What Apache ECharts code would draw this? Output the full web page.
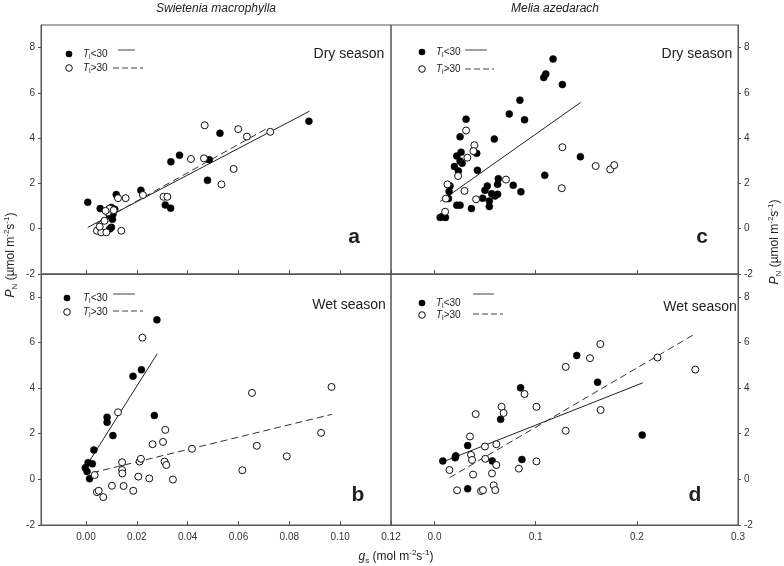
<!DOCTYPE html>
<html><head><meta charset="utf-8">
<script src="https://cdn.jsdelivr.net/npm/echarts@6/dist/echarts.min.js"></script>
<style>html,body{margin:0;padding:0;background:#fff}#c{width:784px;height:566px}</style>
</head><body><div id="c"></div>
<script>
const speciesTitles = ['Swietenia macrophylla', 'Melia azedarach'];
const seasonLabels = ['Dry season', 'Wet season'];
const panelLetters = ['a', 'b', 'c', 'd'];
const xTicksLeft = [0, 0.02, 0.04, 0.06, 0.08, 0.10, 0.12];
const xTicksRight = [0, 0.1, 0.2, 0.3];
const yTicks = [-2, 0, 2, 4, 6, 8];

// Panel a: Swietenia, dry season
const aFilled = [[0.0007,1.17],[0.0056,0.89],[0.0119,1.51],[0.0100,0.94],[0.0113,0.86],[0.0106,0.64],[0.0093,0.57],[0.0104,0.42],[0.0100,0.06],[0.0093,-0.01],[0.0216,1.70],[0.0312,1.05],[0.0333,0.91],[0.0334,2.96],[0.0368,3.25],[0.0485,3.05],[0.0478,2.14],[0.0527,4.22],[0.0877,4.75]];
const aOpen = [[0.0467,4.57],[0.0464,3.11],[0.0413,3.08],[0.0599,4.40],[0.0633,4.07],[0.0725,4.28],[0.0581,2.64],[0.0533,1.96],[0.0305,1.41],[0.0320,1.41],[0.0224,1.49],[0.0156,1.35],[0.0126,1.35],[0.0139,-0.09],[0.0043,-0.09],[0.0060,-0.16],[0.0080,-0.16],[0.0054,0.09],[0.0073,0.35],[0.0086,0.72],[0.0093,0.89],[0.0109,0.82],[0.0077,0.79]];
const aFitSolid = [[0.0007,0.06],[0.0879,5.19]];
const aFitDash = [[0.0040,0.22],[0.0720,4.48]];

// Panel b: Swietenia, wet season
const bFilled = [[-0.0003,0.51],[0.0004,0.34],[0.0008,0.73],[0.0014,0.03],[0.0025,0.68],[0.0031,1.29],[0.0083,2.72],[0.0083,2.50],[0.0106,1.92],[0.0185,4.52],[0.0218,4.80],[0.0269,2.80],[0.0279,6.99]];
const bOpen = [[0.0034,0.19],[0.0043,-0.56],[0.0050,-0.50],[0.0068,-0.78],[0.0102,-0.28],[0.0126,2.94],[0.0142,0.75],[0.0142,0.41],[0.0143,0.26],[0.0148,-0.29],[0.0186,-0.50],[0.0206,0.12],[0.0211,0.78],[0.0216,0.90],[0.0222,6.21],[0.0249,0.04],[0.0262,1.54],[0.0303,1.64],[0.0312,2.17],[0.0309,0.78],[0.0316,0.63],[0.0342,-0.01],[0.0417,1.34],[0.0615,0.40],[0.0653,3.79],[0.0672,1.47],[0.0790,1.01],[0.0925,2.04],[0.0966,4.05]];
const bFitSolid = [[0.0004,0.63],[0.0280,5.50]];
const bFitDash = [[0.0025,0.29],[0.0968,2.85]];

// Panel c: Melia, dry season
const cFilled = [[0.0056,0.50],[0.0108,0.50],[0.0079,0.54],[0.0138,1.33],[0.0144,1.64],[0.0154,1.89],[0.0197,2.75],[0.0220,3.21],[0.0253,2.99],[0.0263,3.38],[0.0253,4.06],[0.0236,2.55],[0.0273,2.89],[0.0312,4.84],[0.0220,1.04],[0.0253,1.04],[0.0365,0.89],[0.0424,2.58],[0.0417,3.33],[0.0476,1.35],[0.0499,1.70],[0.0522,1.89],[0.0542,1.23],[0.0542,0.98],[0.0565,1.55],[0.0598,1.45],[0.0624,1.52],[0.0624,1.96],[0.0631,2.21],[0.0591,3.96],[0.0739,5.07],[0.0778,1.92],[0.0844,5.68],[0.0854,1.63],[0.0890,4.81],[0.1080,6.68],[0.1100,6.84],[0.1172,7.50],[0.1264,6.37],[0.1090,2.36],[0.1442,3.18]];
const cOpen = [[0.0105,0.75],[0.0128,1.96],[0.0112,1.33],[0.0233,2.33],[0.0312,4.34],[0.0394,3.69],[0.0384,3.43],[0.0325,3.14],[0.0296,1.67],[0.0411,1.30],[0.0706,2.17],[0.1264,3.60],[0.1258,1.79],[0.1593,2.77],[0.1737,2.62],[0.1777,2.81]];
const cFitSolid = [[0.0056,1.20],[0.1445,5.58]];

// Panel d: Melia, wet season
const dFilled = [[0.0082,0.81],[0.0204,0.95],[0.0210,1.03],[0.0328,1.48],[0.0328,-0.41],[0.0571,0.81],[0.0654,2.63],[0.0851,4.01],[0.0864,0.87],[0.1406,5.43],[0.1612,4.26],[0.2053,1.94]];
const dOpen = [[0.0148,0.41],[0.0223,-0.48],[0.0351,1.88],[0.0361,1.07],[0.0371,0.85],[0.0381,0.21],[0.0407,2.86],[0.0460,-0.51],[0.0479,-0.47],[0.0499,1.44],[0.0502,0.90],[0.0568,0.26],[0.0585,-0.26],[0.0601,-0.47],[0.0611,1.54],[0.0611,0.63],[0.0663,3.18],[0.0683,2.91],[0.0834,0.47],[0.0890,3.74],[0.1008,3.18],[0.1008,0.79],[0.1297,4.93],[0.1297,2.13],[0.1537,5.31],[0.1639,5.93],[0.1642,3.04],[0.2204,5.34],[0.2578,4.81]];
const dFitSolid = [[0.0089,0.78],[0.2059,4.23]];
const dFitDash = [[0.0148,0.07],[0.2585,6.40]];

const AX = '#555';
const FONT = 'Liberation Sans, Arial, sans-serif';

const grids = [
  {left: 41, top: 25, width: 350, height: 249},
  {left: 41, top: 274, width: 350, height: 251},
  {left: 391, top: 25, width: 347, height: 249},
  {left: 391, top: 274, width: 347, height: 251}
].map(g => Object.assign({show: true, borderColor: AX, borderWidth: 1, backgroundColor: 'transparent'}, g));

function xAx(i, left, showLabel) {
  const ticks = left ? xTicksLeft : xTicksRight;
  return {
    type: 'value', gridIndex: i, position: 'bottom',
    min: left ? -0.0177 : -0.043, max: left ? 0.12 : 0.3,
    axisLine: {show: true, onZero: false, lineStyle: {color: AX, width: 1}},
    axisTick: {show: true, inside: true, length: 4, customValues: ticks, lineStyle: {color: AX}},
    axisLabel: {show: showLabel, customValues: ticks, margin: 7, color: '#333', fontSize: 10, fontFamily: FONT,
      formatter: v => left ? v.toFixed(2) : v.toFixed(1)},
    splitLine: {show: false}
  };
}
function yAx(i, right) {
  return {
    type: 'value', gridIndex: i, position: right ? 'right' : 'left',
    min: -2, max: 9,
    axisLine: {show: true, onZero: false, lineStyle: {color: AX, width: 1}},
    axisTick: {show: true, inside: false, length: 3, customValues: yTicks, lineStyle: {color: AX}},
    axisLabel: {show: true, customValues: yTicks, margin: 6, color: '#333', fontSize: 10, fontFamily: FONT},
    splitLine: {show: false}
  };
}

function filled(i, data) {
  return {type: 'scatter', xAxisIndex: i, yAxisIndex: i, data, symbol: 'circle', symbolSize: 7,
    itemStyle: {color: '#000', borderColor: '#000', borderWidth: 0.5, opacity: 1}, z: 3};
}
function open(i, data) {
  return {type: 'scatter', xAxisIndex: i, yAxisIndex: i, data, symbol: 'circle', symbolSize: 7,
    itemStyle: {color: '#fff', borderColor: '#111', borderWidth: 1, opacity: 1}, z: 4};
}
function fit(i, data, dashed) {
  return {type: 'line', xAxisIndex: i, yAxisIndex: i, data, symbol: 'none', silent: true,
    lineStyle: {color: dashed ? '#333' : '#222', width: 1, type: dashed ? [7, 4] : 'solid'}, z: 2};
}

const series = [
  fit(0, aFitSolid, false), fit(0, aFitDash, true), filled(0, aFilled), open(0, aOpen),
  fit(1, bFitSolid, false), fit(1, bFitDash, true), filled(1, bFilled), open(1, bOpen),
  fit(2, cFitSolid, false), filled(2, cFilled), open(2, cOpen),
  fit(3, dFitSolid, false), fit(3, dFitDash, true), filled(3, dFilled), open(3, dOpen)
];

const richLab = {
  n: {fontSize: 10, fontFamily: FONT, fill: '#222', lineHeight: 14, verticalAlign: 'middle'},
  i: {fontSize: 10, fontFamily: FONT, fontStyle: 'italic', fill: '#222', lineHeight: 14, verticalAlign: 'middle'},
  sub: {fontSize: 7, fontFamily: FONT, fill: '#222', lineHeight: 8, verticalAlign: 'bottom'}
};

function legend(cx, y1, y2, tx, s1, s1e, sy1, d1, d1e, dy2) {
  return [
    {type: 'circle', shape: {cx: cx, cy: y1, r: 3.3}, style: {fill: '#000'}},
    {type: 'circle', shape: {cx: cx, cy: y2, r: 3.3}, style: {fill: '#fff', stroke: '#111', lineWidth: 1}},
    {type: 'text', x: tx, y: y1, style: {text: '{i|T}{sub|l}{n|<30}', rich: richLab, textVerticalAlign: 'middle'}},
    {type: 'text', x: tx, y: y2, style: {text: '{i|T}{sub|l}{n|>30}', rich: richLab, textVerticalAlign: 'middle'}},
    {type: 'line', shape: {x1: s1, y1: sy1, x2: s1e, y2: sy1}, style: {stroke: '#444', lineWidth: 1}},
    {type: 'line', shape: {x1: d1, y1: dy2, x2: d1e, y2: dy2}, style: {stroke: '#444', lineWidth: 1, lineDash: [6, 3]}}
  ];
}

function txt(x, y, text, extra) {
  return {type: 'text', x, y, style: Object.assign({text, fill: '#222', fontFamily: FONT, fontSize: 14,
    textAlign: 'center', textVerticalAlign: 'middle'}, extra || {})};
}

const axisNameRich = {
  n: {fontSize: 12, fontFamily: FONT, fill: '#222', lineHeight: 16, verticalAlign: 'middle'},
  i: {fontSize: 12, fontFamily: FONT, fontStyle: 'italic', fill: '#222', lineHeight: 16, verticalAlign: 'middle'},
  sup: {fontSize: 8, fontFamily: FONT, fill: '#222', lineHeight: 9, verticalAlign: 'top'},
  sub: {fontSize: 8, fontFamily: FONT, fill: '#222', lineHeight: 9, verticalAlign: 'bottom'}
};
const yName = '{i|P}{sub|N}{n| (µmol m}{sup|-2}{n|s}{sup|-1}{n|)}';
const xName = '{i|g}{sub|s}{n| (mol m}{sup|-2}{n|s}{sup|-1}{n|)}';

const graphic = [
  txt(216, 9, speciesTitles[0], {fontSize: 12, fontStyle: 'italic'}),
  txt(555, 9, speciesTitles[1], {fontSize: 12, fontStyle: 'italic'}),
  txt(349, 54, seasonLabels[0]),
  txt(697, 54, seasonLabels[0]),
  txt(349, 305, seasonLabels[1]),
  txt(700, 307, seasonLabels[1]),
  txt(354, 237, panelLetters[0], {fontSize: 21, fontWeight: 'bold'}),
  txt(358, 495, panelLetters[1], {fontSize: 21, fontWeight: 'bold'}),
  txt(702, 237, panelLetters[2], {fontSize: 21, fontWeight: 'bold'}),
  txt(695, 495, panelLetters[3], {fontSize: 21, fontWeight: 'bold'}),
  {type: 'text', x: 11, y: 255, rotation: Math.PI / 2,
    style: {text: yName, rich: axisNameRich, textAlign: 'center', textVerticalAlign: 'middle'}},
  {type: 'text', x: 775, y: 242, rotation: Math.PI / 2,
    style: {text: yName, rich: axisNameRich, textAlign: 'center', textVerticalAlign: 'middle'}},
  {type: 'text', x: 396, y: 557,
    style: {text: xName, rich: axisNameRich, textAlign: 'center', textVerticalAlign: 'middle'}}
].concat(
  legend(69, 54, 68, 83, 118, 135, 50, 113, 143, 68),
  legend(67, 298, 312, 83, 113, 135, 294, 113, 143, 311),
  legend(422, 52, 69, 436, 465, 487, 50, 465, 494, 69),
  legend(422, 303, 315, 436, 473, 494, 294, 473, 503, 314)
);

const chart = echarts.init(document.getElementById('c'), null, {renderer: 'canvas'});
chart.setOption({
  animation: false,
  backgroundColor: '#fff',
  grid: grids,
  xAxis: [xAx(0, true, false), xAx(1, true, true), xAx(2, false, false), xAx(3, false, true)],
  yAxis: [yAx(0, false), yAx(1, false), yAx(2, true), yAx(3, true)],
  series,
  graphic
});
</script></body></html>
